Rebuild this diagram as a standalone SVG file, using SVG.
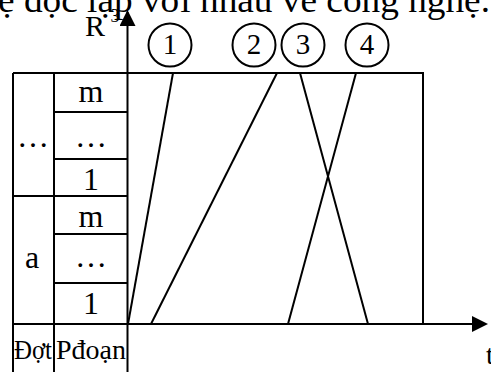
<svg xmlns="http://www.w3.org/2000/svg" width="491" height="372" viewBox="0 0 491 372">
<style>
.l{stroke:#000;stroke-width:2;fill:none}
.t{font-family:"Liberation Serif","Times New Roman",serif;fill:#000;text-anchor:middle}
.c{font-size:32px}
.n{font-size:29px}
</style>
<defs>
<marker id="ah" markerWidth="8" markerHeight="8" refX="7" refY="4" orient="auto" markerUnits="strokeWidth">
<path d="M0,0 L8,4 L0,8 Z" fill="#000"/>
</marker>
</defs>
<rect width="491" height="372" fill="#fff"/>
<text class="t" x="244" y="12" font-size="36" textLength="492" lengthAdjust="spacingAndGlyphs">ẹ độc lập với nhau về công nghệ.</text>

<g id="table">
<path class="l" d="M13,73 H423 V324 M13,73 V372 M54,73 V372 M54,112 H128 M54,159 H128 M13,196 H128 M54,234 H128 M54,283 H128"/>
</g>
<g id="labels">
<text class="t c" x="91" y="102">m</text>
<text class="t c" x="91" y="147">…</text>
<text class="t c" x="91" y="190">1</text>
<text class="t c" x="91" y="227">m</text>
<text class="t c" x="91" y="267">…</text>
<text class="t c" x="91" y="314">1</text>
<text class="t c" x="33" y="147">…</text>
<text class="t c" x="32" y="268">a</text>
<text class="t" x="33" y="359" font-size="27" textLength="38" lengthAdjust="spacingAndGlyphs">Đợt</text>
<text class="t" x="91" y="359" font-size="28" textLength="70" lengthAdjust="spacingAndGlyphs">Pđoạn</text>
<text class="t" x="95" y="36" font-size="30">R</text>
<text class="t" x="115" y="22" font-size="18">3</text>
<text class="t" x="490" y="364" font-size="28">t</text>
</g>
<g id="n1"><circle class="l" cx="170" cy="45" r="21.5"/><text class="t n" x="170" y="54">1</text></g>
<g id="n2"><circle class="l" cx="254" cy="45" r="21.5"/><text class="t n" x="254" y="54">2</text></g>
<g id="n3"><circle class="l" cx="303" cy="45" r="21.5"/><text class="t n" x="303" y="54">3</text></g>
<g id="n4"><circle class="l" cx="367" cy="45" r="21.5"/><text class="t n" x="367" y="54">4</text></g>
<g id="connectors">
<line class="l" x1="127.5" y1="372" x2="127.5" y2="12" marker-end="url(#ah)"/>
<line class="l" x1="13" y1="324" x2="486" y2="324" marker-end="url(#ah)"/>
<line class="l" x1="128" y1="324" x2="173" y2="73"/>
<line class="l" x1="151" y1="324" x2="277" y2="73"/>
<line class="l" x1="300" y1="73" x2="368" y2="324"/>
<line class="l" x1="356" y1="73" x2="288" y2="324"/>
</g>
</svg>
